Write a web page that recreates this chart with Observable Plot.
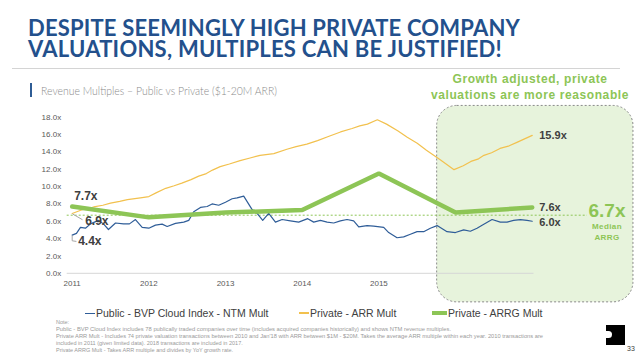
<!DOCTYPE html>
<html>
<head>
<meta charset="utf-8">
<script src="https://cdn.jsdelivr.net/npm/d3@7"></script>
<script src="https://cdn.jsdelivr.net/npm/@observablehq/plot@0.6"></script>
<style>
  html, body { margin: 0; padding: 0; background: #fff; }
  #page { position: relative; width: 638px; height: 359px; overflow: hidden; background: #fff; font-family: Arial, "Liberation Sans", sans-serif; }
  #title { position: absolute; left: 28px; top: 17px; font-family: Lato, "Open Sans", Arial, sans-serif; font-weight: bold; font-size: 22px; color: #23508c; white-space: nowrap; line-height: 21px; }
  #title span { white-space: nowrap; }
  #hr { position: absolute; left: 12px; top: 68px; width: 608px; height: 1px; background: #d4d4d4; }
  #subbar { position: absolute; left: 30px; top: 83px; width: 2px; height: 14px; background: #2e5c95; }
  #subtitle { position: absolute; left: 41px; top: 83px; font-family: Lato, "Open Sans", sans-serif; font-weight: 300; font-size: 11.5px; line-height: 16px; color: #8a8a8a; white-space: nowrap; transform-origin: 0 0; }
  #callout { position: absolute; left: 420px; width: 220px; top: 71px; text-align: center; font-family: Arial, "Liberation Sans", sans-serif; font-weight: bold; font-size: 12px; line-height: 16px; letter-spacing: 0.6px; color: #8dc556; }
  #chart { position: absolute; left: 0; top: 100px; }
  .leg { position: absolute; top: 306px; font-size: 10.5px; line-height: 14px; color: #404040; white-space: nowrap; display: flex; align-items: center; }
  .sw { display: inline-block; width: 10px; margin-right: 1px; }
  .note { position: absolute; left: 56px; font-family: Arial, "Liberation Sans", sans-serif; font-size: 5.5px; line-height: 6.5px; color: #9a9a9a; white-space: nowrap; transform-origin: 0 0; }
  #logo { position: absolute; left: 606px; top: 325px; width: 19px; height: 20px; background: #000; }
  #logo:before { content: ""; position: absolute; left: 0; top: 6px; width: 6px; height: 7px; background: #fff; border-radius: 0 6px 6px 0; }
  #pnum { position: absolute; left: 627px; top: 345px; font-size: 7px; line-height: 8px; color: #404040; }
</style>
</head>
<body>
<div id="page">
  <div id="title"><span id="t1">DESPITE SEEMINGLY HIGH PRIVATE COMPANY</span><br><span id="t2">VALUATIONS, MULTIPLES CAN BE JUSTIFIED!</span></div>
  <div id="hr"></div>
  <div id="subbar"></div>
  <div id="subtitle">Revenue Multiples – Public vs Private ($1-20M ARR)</div>
  <div id="callout">Growth adjusted, private<br>valuations are more reasonable</div>
  <div id="chart"></div>
  <div class="leg" style="left:85px"><span class="sw" style="border-top:1.5px solid #2f5d98"></span>Public - BVP Cloud Index - NTM Mult</div>
  <div class="leg" style="left:299px"><span class="sw" style="border-top:2px solid #f2c14e"></span>Private - ARR Mult</div>
  <div class="leg" style="left:432px"><span class="sw" style="width:15px;border-top:4px solid #8dc556"></span>Private - ARRG Mult</div>
  <div class="note" id="n0" style="top:319px">Note:</div>
  <div class="note" id="n1" style="top:326px">Public - BVP Cloud Index includes 78 publically traded companies over time (includes acquired companies historically) and shows NTM revenue multiples.</div>
  <div class="note" id="n2" style="top:333px">Private ARR Mult - Includes 74 private valuation transactions between 2010 and Jan'18 with ARR between $1M - $20M. Takes the average ARR multiple within each year. 2010 transactions are</div>
  <div class="note" id="n3" style="top:340px">included in 2011 (given limited data). 2018 transactions are included in 2017.</div>
  <div class="note" id="n4" style="top:347px">Private ARRG Mult - Takes ARR multiple and divides by YoY growth rate.</div>
  <div id="logo"></div>
  <div id="pnum">33</div>
</div>
<script>
// ---------- data ----------
const years = [2011, 2012, 2013, 2014, 2015, 2016, 2017];
const yTicks = [0, 2, 4, 6, 8, 10, 12, 14, 16, 18];

// Public - BVP Cloud Index - NTM Mult (approx. monthly)
const publicX = [2011.00, 2011.056, 2011.108, 2011.173, 2011.239, 2011.343, 2011.408, 2011.473, 2011.565, 2011.669, 2011.747, 2011.825, 2011.913, 2011.999,
  2012.086, 2012.173, 2012.239, 2012.347, 2012.455, 2012.520, 2012.585, 2012.673, 2012.760, 2012.825, 2012.911, 2012.999,
  2013.086, 2013.151, 2013.237, 2013.347, 2013.412, 2013.485, 2013.563, 2013.651, 2013.738, 2013.846, 2013.954,
  2014.072, 2014.150, 2014.237, 2014.325, 2014.411, 2014.498, 2014.585, 2014.671, 2014.737, 2014.846, 2014.932,
  2015.063, 2015.128, 2015.237, 2015.323, 2015.411, 2015.498, 2015.584, 2015.671, 2015.759, 2015.889, 2015.998,
  2016.106, 2016.193, 2016.280, 2016.346, 2016.476, 2016.584, 2016.671, 2016.757, 2016.845, 2016.932, 2017.00];
const publicY = [4.4, 4.6, 5.3, 5.2, 5.7, 6.1, 5.7, 5.05, 5.8, 5.7, 5.7, 6.2, 5.3, 5.2,
  5.55, 5.67, 5.4, 5.75, 5.9, 6.1, 7.1, 7.6, 7.7, 8.0, 7.85, 8.2,
  8.6, 8.7, 8.9, 7.35, 6.9, 6.1, 6.9, 5.9, 6.2, 6.05, 5.9,
  6.3, 5.9, 6.1, 5.9, 5.8, 6.05, 6.2, 6.05, 5.35, 5.5, 5.45,
  5.3, 4.7, 4.1, 4.2, 4.5, 4.8, 4.8, 5.2, 5.5, 4.8, 4.7,
  5.0, 4.85, 5.2, 5.55, 6.2, 5.9, 5.9, 6.1, 6.2, 6.1, 6.0];

// Private - ARR Mult
const arrX = [2011.00, 2011.12, 2011.28, 2011.40, 2011.50, 2011.62, 2011.72, 2011.89, 2012.00, 2012.10, 2012.22, 2012.33, 2012.43, 2012.55, 2012.65, 2012.75, 2012.83, 2012.93,
  2013.05, 2013.19, 2013.32, 2013.45, 2013.63, 2013.80, 2013.92, 2014.06, 2014.20, 2014.35, 2014.50, 2014.65, 2014.75, 2014.85, 2014.98,
  2015.10, 2015.25, 2015.37, 2015.50, 2015.62, 2015.80, 2015.98, 2016.10, 2016.20, 2016.30, 2016.37, 2016.47, 2016.58, 2016.70, 2016.80, 2016.90, 2017.00];
const arrY = [6.9, 7.3, 7.65, 7.85, 8.1, 8.3, 8.5, 8.7, 8.85, 9.3, 9.8, 10.1, 10.4, 10.8, 11.2, 11.5, 11.9, 12.3,
  12.6, 13.0, 13.3, 13.6, 13.8, 14.3, 14.6, 14.9, 15.3, 15.8, 16.3, 16.7, 17.0, 17.2, 17.7,
  17.2, 16.4, 15.7, 15.0, 14.2, 13.1, 11.95, 12.4, 12.9, 13.2, 13.6, 13.9, 14.4, 14.7, 15.1, 15.5, 15.9];

// Private - ARRG Mult (yearly)
const arrgY = [7.7, 6.45, 7.0, 7.3, 11.5, 7.0, 7.6];
const medianARRG = 6.7;

// annotation positions (data units)
const highlightBox = [{x1: 2015.76, x2: 2018.32, y1: -3.35, y2: 19.3}];
const medianLineEnd = 2017.72;
const medianLabelX = 2017.975;
const leader69 = [{x: 2011.01, y: 6.82}, {x: 2011.13, y: 6.2}];
const leader44 = [{x: 2011.0, y: 4.3}, {x: 2011.0, y: 3.75}, {x: 2011.05, y: 3.68}];

// ---------- build ----------
const publicData = publicX.map((x, i) => ({x, y: publicY[i]}));
const arrData = arrX.map((x, i) => ({x, y: arrY[i]}));
const arrgData = years.map((x, i) => ({x, y: arrgY[i]}));
const last = (a) => a[a.length - 1];

const BLUE = "#2f5d98", YEL = "#f2c14e", GRN = "#8dc556", LBL = "#404040";

const chart = Plot.plot({
  width: 638,
  height: 205,
  marginTop: 16.7,
  marginBottom: 32.2,
  marginLeft: 66.7,
  marginRight: 104.5,
  style: {fontFamily: "Arial, 'Liberation Sans', sans-serif", fontSize: "8px", color: "#595959", background: "transparent", overflow: "visible"},
  x: {domain: [2010.935, 2017.023], ticks: years, tickFormat: d => String(d), tickSize: 0, tickPadding: 7, label: null},
  y: {domain: [0, 18], ticks: yTicks, tickFormat: d => d.toFixed(1) + "x", tickSize: 0, tickPadding: 6, label: null},
  marks: [
    Plot.rect(highlightBox, {x1: "x1", x2: "x2", y1: "y1", y2: "y2", fill: "#e7f3dc", stroke: "#8a8a8a", strokeDasharray: "2,2", strokeWidth: 1, rx: 20, ry: 20}),
    Plot.ruleY([0], {stroke: "#d6d6d6", strokeWidth: 1}),
    Plot.ruleY([medianARRG], {x1: 2010.935, x2: medianLineEnd, stroke: GRN, strokeWidth: 1, strokeDasharray: "2,2"}),
    Plot.line(publicData, {x: "x", y: "y", stroke: BLUE, strokeWidth: 1.2}),
    Plot.line(arrData, {x: "x", y: "y", stroke: YEL, strokeWidth: 1.2}),
    Plot.line(arrgData, {x: "x", y: "y", stroke: GRN, strokeWidth: 4.5, strokeLinejoin: "miter"}),
    Plot.line(leader69, {x: "x", y: "y", stroke: "#a6a6a6", strokeWidth: 1}),
    Plot.line(leader44, {x: "x", y: "y", stroke: "#a6a6a6", strokeWidth: 1}),
    // start labels
    Plot.text([arrgData[0]], {x: "x", y: "y", text: d => d.y.toFixed(1) + "x", dx: 2, dy: -10, textAnchor: "start", fontSize: 12, fontWeight: "bold", fill: LBL}),
    Plot.text([arrData[0]], {x: "x", y: "y", text: d => d.y.toFixed(1) + "x", dx: 13, dy: 7.5, textAnchor: "start", fontSize: 12, fontWeight: "bold", fill: LBL}),
    Plot.text([publicData[0]], {x: "x", y: "y", text: d => d.y.toFixed(1) + "x", dx: 6, dy: 6.4, textAnchor: "start", fontSize: 12, fontWeight: "bold", fill: LBL}),
    // end labels
    Plot.text([last(arrData)], {x: "x", y: "y", text: d => d.y.toFixed(1) + "x", dx: 7, textAnchor: "start", fontSize: 11, fontWeight: "bold", fill: LBL}),
    Plot.text([last(arrgData)], {x: "x", y: "y", text: d => d.y.toFixed(1) + "x", dx: 7, textAnchor: "start", fontSize: 11, fontWeight: "bold", fill: LBL}),
    Plot.text([last(publicData)], {x: "x", y: "y", text: d => d.y.toFixed(1) + "x", dx: 7, dy: 1, textAnchor: "start", fontSize: 11, fontWeight: "bold", fill: LBL}),
    // median label
    Plot.text([{x: medianLabelX, y: medianARRG}], {x: "x", y: "y", text: d => d.y.toFixed(1) + "x", dy: -4, fontSize: 19, fontWeight: "bold", fill: GRN}),
    Plot.text([{x: medianLabelX, y: medianARRG}], {x: "x", y: "y", text: () => "Median", dy: 11.5, fontSize: 8, fontWeight: "bold", fill: GRN}),
    Plot.text([{x: medianLabelX, y: medianARRG}], {x: "x", y: "y", text: () => "ARRG", dy: 22, fontSize: 8, fontWeight: "bold", fill: GRN})
  ]
});
document.getElementById("chart").appendChild(chart);
chart.querySelectorAll("text").forEach(t => {
  if (t.textContent === "Median" || t.textContent === "ARRG") t.setAttribute("letter-spacing", "0.4");
});

function fit(id, w) {
  const el = document.getElementById(id);
  const cur = el.getBoundingClientRect().width;
  if (cur > 0) el.style.transform = `scaleX(${w / cur})`;
}
function spaceFit(id, w) {
  const el = document.getElementById(id);
  const cur = el.getBoundingClientRect().width;
  const n = el.textContent.length;
  if (cur > 0 && n > 1) el.style.letterSpacing = ((w - cur) / n) + "px";
}
spaceFit("t1", 492);
spaceFit("t2", 474);
fit("subtitle", 236);
fit("n1", 395);
fit("n2", 487);
</script>
</body>
</html>
